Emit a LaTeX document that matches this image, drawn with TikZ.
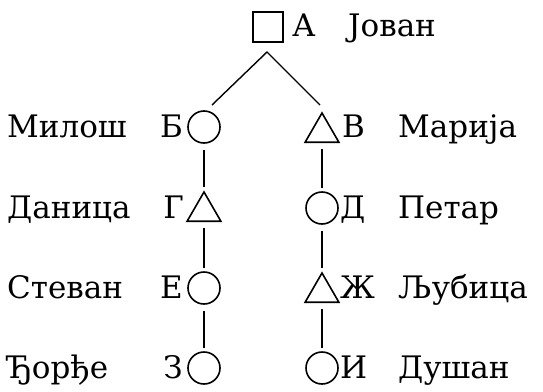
\documentclass[tikz,border=0pt]{standalone}
\usepackage{fontspec}
\setmainfont{DejaVu Serif}
\usetikzlibrary{shapes.geometric}
\begin{document}
\begin{tikzpicture}[x=1pt,y=-1pt,
  every node/.style={font=\fontsize{31}{36}\selectfont},
  sq/.style={draw, line width=1.6pt, minimum size=30pt, inner sep=0pt},
  ci/.style={draw, circle, line width=1.6pt, minimum size=32pt, inner sep=0pt},
  tri/.style={draw, regular polygon, regular polygon sides=3, minimum size=39pt, inner sep=0pt, line width=1.6pt},
  lbl/.style={inner sep=0pt},
  edge/.style={line width=1.4pt, shorten <=6pt, shorten >=3pt},
  tedge/.style={line width=1.4pt}]
\useasboundingbox (0,0) rectangle (543,391);
% symbols
\node[sq] (A) at (268,27) {};
\node[ci] (B) at (204,127) {};
\node[tri] (V) at (322,132.5) {};
\node[tri] (G) at (204,211.5) {};
\node[ci] (D) at (322,208) {};
\node[ci] (E) at (204,288) {};
\node[tri] (Zh) at (322,292.5) {};
\node[ci] (Z) at (204,368) {};
\node[ci] (I) at (322,368) {};
% top fork
\coordinate (apex) at (267,52);
\coordinate (endB) at (212,105);
\coordinate (endV) at (320,105);
\draw[tedge] (endB) -- (apex) -- (endV);
% vertical links
\draw[edge] (B) -- (G);
\draw[edge] (G) -- (E);
\draw[edge] (E) -- (Z);
\draw[edge] (V) -- (D);
\draw[edge] (D) -- (Zh);
\draw[edge] (Zh) -- (I);
% letters
\node[lbl, anchor=base west] (lA) at (292,36) {А};
\node[lbl, anchor=base east] (lB) at (183,137) {Б};
\node[lbl, anchor=base west] (lV) at (342,137) {В};
\node[lbl, anchor=base east] (lG) at (184,218) {Г};
\node[lbl, anchor=base west] (lD) at (340,218) {Д};
\node[lbl, anchor=base east] (lE) at (183,298) {Е};
\node[lbl, anchor=base west] (lZh) at (340,298) {Ж};
\node[lbl, anchor=base east] (lZ) at (183,378) {З};
\node[lbl, anchor=base west] (lI) at (340,378) {И};
% names
\node[lbl, anchor=base west] (nA) at (348,36) {Јован};
\node[lbl, anchor=base west] (nB) at (7,137) {Милош};
\node[lbl, anchor=base west] (nV) at (398,137) {Марија};
\node[lbl, anchor=base west] (nG) at (7,218) {Даница};
\node[lbl, anchor=base west] (nD) at (398,218) {Петар};
\node[lbl, anchor=base west] (nE) at (7,298) {Стеван};
\node[lbl, anchor=base west] (nZh) at (398,298) {Љубица};
\node[lbl, anchor=base west] (nZ) at (7,378) {Ђорђе};
\node[lbl, anchor=base west] (nI) at (398,378) {Душан};
\end{tikzpicture}
\end{document}
